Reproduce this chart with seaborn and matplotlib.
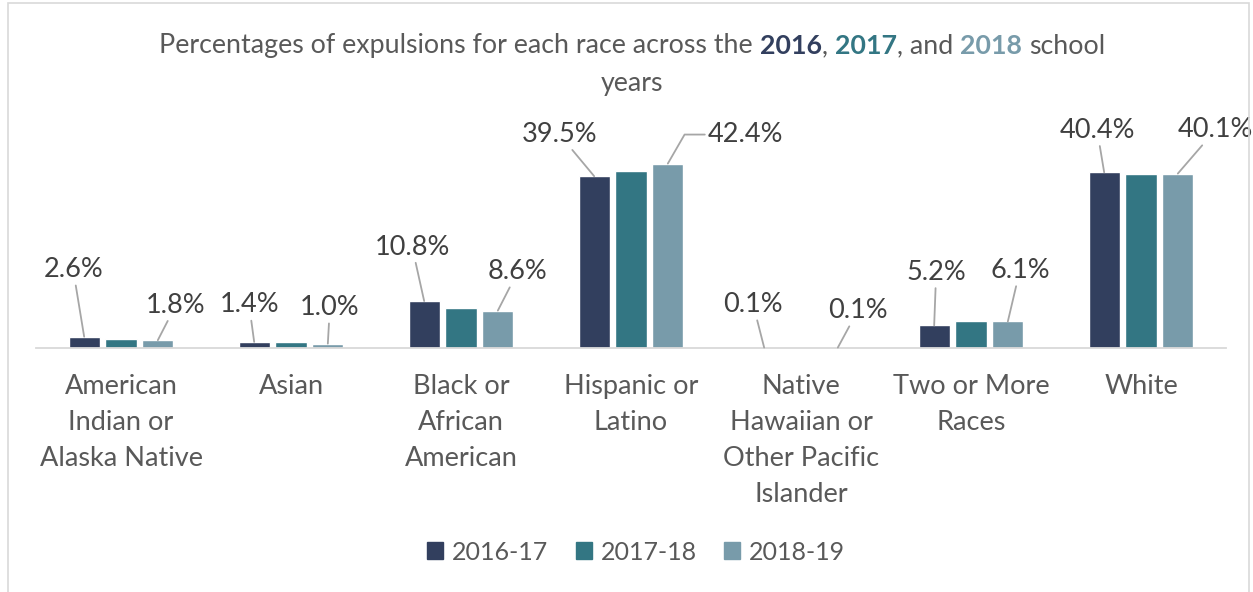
import numpy as np
import pandas as pd
import matplotlib
matplotlib.use('Agg')
import matplotlib.pyplot as plt
import seaborn as sns
from matplotlib.patches import Patch, Rectangle

# dados
categorias = ['American Indian or Alaska Native', 'Asian', 'Black or African American',
              'Hispanic or Latino', 'Native Hawaiian or Other Pacific Islander',
              'Two or More Races', 'White']
rotulos = ['American\nIndian or\nAlaska Native', 'Asian', 'Black or\nAfrican\nAmerican',
           'Hispanic or\nLatino', 'Native\nHawaiian or\nOther Pacific\nIslander',
           'Two or More\nRaces', 'White']
anos = ['2016-17', '2017-18', '2018-19']
v_2016 = [2.6, 1.4, 10.8, 39.5, 0.1, 5.2, 40.4]
v_2017 = [2.1, 1.3, 9.2, 40.7, 0.2, 6.2, 39.9]
v_2018 = [1.8, 1.0, 8.6, 42.4, 0.1, 6.1, 40.1]

cores = ['#323F5E', '#337683', '#789BAA']
cinza = '#595959'

Base = pd.DataFrame({
    'Raca': categorias * 3,
    'Valor': v_2016 + v_2017 + v_2018,
    'Ano': [a for a in anos for _ in categorias],
})

sns.set_style('white')
plt.rcParams['font.family'] = ['Lato', 'DejaVu Sans']

W, H = 1253, 592
fig = plt.figure(figsize=(W / 100, H / 100), dpi=100)
ax = fig.add_axes([36 / W, 244 / H, 1190 / W, 217.5 / H])

sns.barplot(data=Base, x='Raca', y='Valor', hue='Ano', palette=cores, saturation=1,
            width=0.65, gap=0.15, errorbar=None, legend=False, ax=ax)

ax.set_ylim(0, 50)
ax.set_xlim(-0.5, 6.5)
ax.set_xlabel('')
ax.set_ylabel('')
ax.set_yticks([])
ax.set_xticks(range(len(rotulos)))
ax.set_xticklabels(rotulos, fontsize=19.5, color=cinza, linespacing=1.55)
ax.tick_params(axis='x', length=0, pad=19)
for s in ['top', 'left', 'right']:
    ax.spines[s].set_visible(False)
ax.spines['bottom'].set_color('#d9d9d9')
ax.spines['bottom'].set_linewidth(1.3)

# rotulos dos valores (2016 e 2018) com linhas guia
desloc_2016 = [(-11, 67), (-5, 37), (-12, 54), (-35, 42), (-11, 43), (2, 53), (-7, 42)]
desloc_2018 = [(18, 35), (2, 36), (20, 39), (78, 29), (20, 37), (12, 51), (38, 44)]
for cont, vals, desl in [(ax.containers[0], v_2016, desloc_2016),
                         (ax.containers[2], v_2018, desloc_2018)]:
    for barra, v, (dx, dy) in zip(cont, vals, desl):
        xc = barra.get_x() + barra.get_width() / 2
        conexao = 'angle,angleA=0,angleB=60,rad=0' if dx > 60 else 'arc3'
        ax.annotate(f'{v:.1f}%', xy=(xc, barra.get_height()), xytext=(dx, dy),
                    textcoords='offset pixels', ha='center', va='center',
                    fontsize=19.5, color='#404040',
                    arrowprops=dict(arrowstyle='-', color='#a6a6a6', lw=1.3,
                                    shrinkA=0, shrinkB=0, connectionstyle=conexao))

# legenda
handles = [Patch(facecolor=c, edgecolor=c) for c in cores]
fig.legend(handles, anos, loc='center', bbox_to_anchor=(636 / W, 1 - 552 / H), ncol=3,
           frameon=False, fontsize=18, labelcolor=cinza, handlelength=0.65,
           handleheight=0.65, handletextpad=0.35, columnspacing=1.1)

# titulo com anos coloridos
fig.canvas.draw()
r = fig.canvas.get_renderer()
tam = 19.3
pecas = [('Percentages of expulsions for each race across the', cinza, 'normal', True),
         ('2016', cores[0], 'bold', False),
         (',', cinza, 'normal', True),
         ('2017', cores[1], 'bold', False),
         (', and', cinza, 'normal', True),
         ('2018', cores[2], 'bold', True),
         ('school', cinza, 'normal', False)]

def largura(t, peso='normal'):
    o = fig.text(0, 0, t, fontsize=tam, fontweight=peso)
    w = o.get_window_extent(r).width
    o.remove()
    return w

espaco = largura('x x') - largura('xx')
objs, larg = [], []
for t, c, p, sp in pecas:
    o = fig.text(0, 1 - 46 / H, t, fontsize=tam, color=c, fontweight=p, va='center', ha='left')
    objs.append(o)
    larg.append(o.get_window_extent(r).width + (espaco if sp else 0))
x = 632 - sum(larg) / 2
for o, w in zip(objs, larg):
    o.set_x(x / W)
    x += w
fig.text(632 / W, 1 - 83 / H, 'years', fontsize=tam, color=cinza, ha='center', va='center')

# moldura
fig.add_artist(Rectangle((8 / W, -0.1), (1249 - 8) / W, 1.1 - 3 / H, transform=fig.transFigure,
                         fill=False, edgecolor='#d9d9d9', lw=1.2))

fig.savefig('out.png', dpi=100)
